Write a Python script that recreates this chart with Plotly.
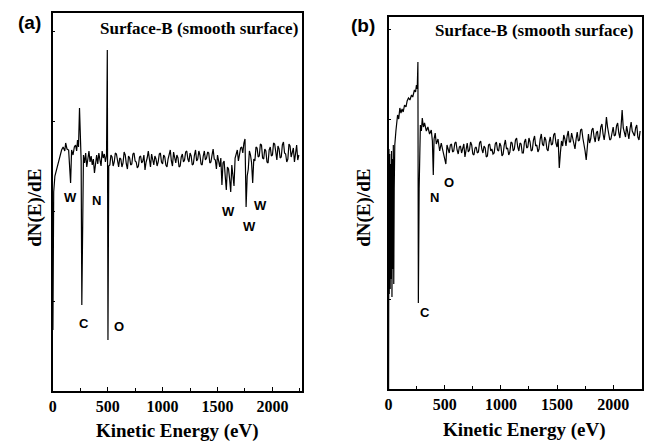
import plotly.graph_objects as go

W, H = 645, 442

# ---------------- Panel (a) data: kinetic energy (eV) and dN(E)/dE (arb. units)
energy_a = [2, 9, 20, 35, 54, 68, 81, 95, 110, 118, 130, 145, 155, 163, 172, 185, 197,
            208, 218, 226, 235, 244, 253, 259, 265, 272, 280, 290, 300, 310, 320, 330,
            340, 350, 360, 370, 380, 390, 400, 410, 420, 430, 440, 450, 460, 470, 480,
            490, 497, 503, 510,
            520, 530, 540, 550, 560, 570, 580, 590, 600, 610,
            620, 630, 640, 650, 660, 670, 680, 690, 700, 710,
            720, 730, 740, 750, 760, 770, 780, 790, 800, 810,
            820, 830, 840, 850, 860, 870, 880, 890, 900, 910,
            920, 930, 940, 950, 960, 970, 980, 990, 1000, 1010,
            1020, 1030, 1040, 1050, 1060, 1070, 1080, 1090, 1100, 1110,
            1120, 1130, 1140, 1150, 1160, 1170, 1180, 1190, 1200, 1210,
            1220, 1230, 1240, 1250, 1260, 1270, 1280, 1290, 1300, 1310,
            1320, 1330, 1340, 1350, 1360, 1370, 1380, 1390, 1400, 1410,
            1420, 1430, 1440, 1450, 1460, 1470, 1480, 1490, 1500, 1510,
            1520, 1530, 1540, 1550, 1560, 1570, 1580, 1590, 1600, 1610,
            1620, 1630, 1640, 1650, 1660, 1670, 1680, 1690, 1700, 1710,
            1720, 1730, 1740, 1750, 1760, 1770, 1780, 1790, 1800, 1810,
            1820, 1830, 1840, 1850, 1860, 1870, 1880, 1890, 1900, 1910,
            1920, 1930, 1940, 1950, 1960, 1970, 1980, 1990, 2000, 2010,
            2020, 2030, 2040, 2050, 2060, 2070, 2080, 2090, 2100, 2110,
            2120, 2130, 2140, 2150, 2160, 2170, 2180, 2190, 2200, 2210,
            2220, 2230, 2240]
signal_a = [61, 199, 215, 222, 231, 236, 241, 244, 240, 248, 242, 241, 225, 208, 241,
            236, 244, 246, 240, 251, 244, 283, 251, 230, 86, 200, 236, 228, 238, 224,
            233, 240, 229, 235, 226, 232, 218, 230, 236, 227, 238, 231, 225, 240, 233,
            237, 229, 236, 341, 51, 225,
            226, 236, 234, 225, 229, 238, 237, 228, 224, 233,
            232, 224, 228, 239, 236, 227, 222, 235, 233, 226,
            227, 237, 238, 230, 229, 223, 225, 234, 235, 228,
            230, 236, 221, 229, 233, 240, 228, 224, 237, 231,
            226, 235, 232, 225, 229, 237, 238, 229, 227, 236,
            234, 226, 224, 232, 236, 241, 230, 225, 239, 233,
            228, 236, 233, 224, 225, 234, 237, 229, 231, 239,
            240, 232, 229, 238, 235, 226, 227, 236, 241, 230,
            232, 240, 236, 227, 226, 235, 240, 231, 233, 239,
            238, 228, 229, 236, 242, 232, 231, 222, 236, 230,
            224, 233, 206, 228, 230, 215, 201, 224, 222, 212,
            199, 226, 212, 205, 233, 238, 241, 230, 236, 243,
            244, 238, 248, 252, 184, 215, 222, 240, 236, 228,
            208, 232, 230, 244, 243, 234, 235, 247, 246, 233,
            232, 242, 240, 229, 228, 241, 244, 235, 236, 248,
            247, 236, 231, 245, 242, 233, 234, 246, 249, 238,
            237, 229, 232, 247, 245, 234, 238, 243, 229, 240,
            246, 231, 236]

# ---------------- Panel (b) data
energy_b = [0, 3, 6, 10, 14, 18, 22, 26, 30, 34, 38, 42, 46, 50, 55, 65, 80, 90, 100,
            110, 120, 130, 142, 155, 165, 177, 190, 204, 215, 230, 240, 248, 255, 261,
            265, 272, 283, 292, 300, 310, 320, 336, 350, 365, 380, 390, 398, 405, 415,
            425, 440, 455, 469, 480, 495, 510, 520,
            540, 550, 560, 570, 580, 590, 600, 610, 620, 630,
            640, 650, 660, 670, 680, 690, 700, 710, 720, 730,
            740, 750, 760, 770, 780, 790, 800, 810, 820, 830,
            840, 850, 860, 870, 880, 890, 900, 910, 920, 930,
            940, 950, 960, 970, 980, 990, 1000, 1010, 1020, 1030,
            1040, 1050, 1060, 1070, 1080, 1090, 1100, 1110, 1120, 1130,
            1140, 1150, 1160, 1170, 1180, 1190, 1200, 1210, 1220, 1230,
            1240, 1250, 1260, 1270, 1280, 1290, 1300, 1310, 1320, 1330,
            1340, 1350, 1360, 1370, 1380, 1390, 1400, 1410, 1420, 1430,
            1440, 1450, 1460, 1470, 1480, 1490, 1500, 1510, 1520, 1530,
            1540, 1550, 1560, 1570, 1580, 1590, 1600, 1610, 1620, 1630,
            1640, 1650, 1660, 1670, 1680, 1690, 1700, 1710, 1720, 1730,
            1740, 1750, 1760, 1770, 1780, 1790, 1800, 1810, 1820, 1830,
            1840, 1850, 1860, 1870, 1880, 1890, 1900, 1910, 1920, 1930,
            1940, 1950, 1960, 1970, 1980, 1990, 2000, 2010, 2020, 2030,
            2040, 2050, 2060, 2070, 2080, 2090, 2100, 2110, 2120, 2130,
            2140, 2150, 2160, 2170, 2180, 2190, 2200, 2210, 2220, 2230,
            2240]
signal_b = [0, 240, 95, 235, 100, 225, 110, 238, 92, 230, 120, 244, 105, 200, 244, 258,
            274, 270, 281, 276, 280, 277, 284, 282, 288, 291, 289, 294, 292, 299, 297,
            304, 300, 327, 86, 200, 264, 258, 271, 262, 266, 258, 262, 255, 259, 248,
            214, 250, 256, 245, 250, 238, 246, 240, 233, 225, 244,
            236, 244, 245, 237, 238, 246, 247, 239, 235, 242,
            243, 236, 240, 245, 232, 238, 246, 237, 239, 247,
            244, 235, 234, 241, 242, 236, 237, 246, 248, 240,
            236, 243, 241, 232, 233, 244, 245, 238, 240, 235,
            236, 245, 247, 239, 238, 246, 243, 233, 235, 244,
            249, 240, 241, 234, 237, 247, 246, 238, 240, 249,
            251, 242, 238, 246, 245, 236, 236, 247, 250, 241,
            242, 251, 247, 238, 239, 249, 253, 243, 244, 237,
            240, 250, 255, 245, 243, 252, 249, 240, 238, 247,
            252, 244, 245, 254, 256, 246, 242, 250, 221, 236,
            248, 243, 254, 250, 243, 253, 258, 247, 247, 256,
            251, 243, 240, 250, 257, 248, 249, 259, 260, 251,
            246, 238, 229, 248, 255, 246, 250, 259, 261, 252,
            247, 256, 258, 248, 252, 262, 265, 255, 249, 258,
            272, 262, 255, 249, 250, 259, 262, 253, 254, 263,
            266, 256, 251, 262, 279, 261, 256, 252, 263, 258,
            250, 260, 267, 258, 255, 253, 261, 264, 252, 249,
            258]

x_ticks = [0, 500, 1000, 1500, 2000]
x_tick_labels = ["0", "500", "1000", "1500", "2000"]

peak_labels_a = ["W", "N", "W", "W", "W", "C", "O"]
peak_x_a = [163, 398, 1602, 1891, 1792, 281, 606]
peak_y_a = [194, 191, 180, 186, 165, 68, 65]

peak_labels_b = ["N", "O", "C"]
peak_x_b = [407, 540, 327]
peak_y_b = [192, 207, 77]

# ---------------- figure
fig = go.Figure()
fig.add_trace(go.Scatter(x=energy_a, y=signal_a, mode="lines",
                         line=dict(color="black", width=1.2), xaxis="x", yaxis="y",
                         showlegend=False, hoverinfo="skip"))
fig.add_trace(go.Scatter(x=energy_b, y=signal_b, mode="lines",
                         line=dict(color="black", width=1.2), xaxis="x2", yaxis="y2",
                         showlegend=False, hoverinfo="skip"))

def px_x(p):
    return p / W

def px_y(p):
    return 1 - p / H

tickfont = dict(family="Liberation Serif", size=16, color="black", weight="bold")

def xaxis(dom, rng):
    return dict(domain=dom, range=rng, tickvals=x_ticks, ticktext=x_tick_labels,
                ticks="inside", ticklen=4, tickwidth=1.2, tickcolor="black",
                minor=dict(dtick=250, ticks="inside", ticklen=3, tickcolor="black"),
                showline=True, linecolor="black", linewidth=1.5, mirror=True,
                showgrid=False, zeroline=False, tickfont=tickfont, fixedrange=True)

def yaxis(dom, rng, anchor):
    return dict(domain=dom, range=rng, showticklabels=False, ticks="inside",
                ticklen=3, tickcolor="black", dtick=90,
                showline=True, linecolor="black", linewidth=1.5, mirror=True,
                showgrid=False, zeroline=False, anchor=anchor, fixedrange=True)

fig.update_layout(
    width=W, height=H, margin=dict(l=0, r=0, t=0, b=0),
    paper_bgcolor="white", plot_bgcolor="white",
    xaxis=xaxis([px_x(49), px_x(300)], [0, 2270]) | dict(anchor="y"),
    yaxis=yaxis([px_y(391), px_y(13)], [0, 378], "x"),
    xaxis2=xaxis([px_x(387), px_x(642)], [0, 2257]) | dict(anchor="y2"),
    yaxis2=yaxis([px_y(389), px_y(17)], [0, 372], "x2"),
)

ann = []
lab_font = dict(family="Liberation Sans", size=13, color="black", weight="bold")
for t, x, y in zip(peak_labels_a, peak_x_a, peak_y_a):
    ann.append(dict(text=t, x=x, y=y, xref="x", yref="y", showarrow=False, font=lab_font))
for t, x, y in zip(peak_labels_b, peak_x_b, peak_y_b):
    ann.append(dict(text=t, x=x, y=y, xref="x2", yref="y2", showarrow=False, font=lab_font))

serif_b = lambda s: dict(family="Liberation Serif", size=s, color="black", weight="bold")
sans_b = lambda s: dict(family="Liberation Sans", size=s, color="black", weight="bold")

for (cx, cy, t, f, ang) in [
    (26, 22, "(a)", sans_b(19), 0),
    (361, 25, "(b)", sans_b(19), 0),
    (196, 28, "Surface-B (smooth surface)", serif_b(17), 0),
    (533, 31, "Surface-B (smooth surface)", serif_b(17), 0),
    (175, 431, "Kinetic Energy (eV)", serif_b(19), 0),
    (524, 430, "Kinetic Energy (eV)", serif_b(19), 0),
    (31, 208, "dN(E)/dE", serif_b(19), -90),
    (362, 208, "dN(E)/dE", serif_b(19), -90),
]:
    ann.append(dict(text=t, x=px_x(cx), y=px_y(cy), xref="paper", yref="paper",
                    xanchor="center", yanchor="middle", showarrow=False, font=f,
                    textangle=ang))

fig.update_layout(annotations=ann)
fig.write_html("out.html", config={"displayModeBar": False},
               post_script="document.body.style.margin='0';")
